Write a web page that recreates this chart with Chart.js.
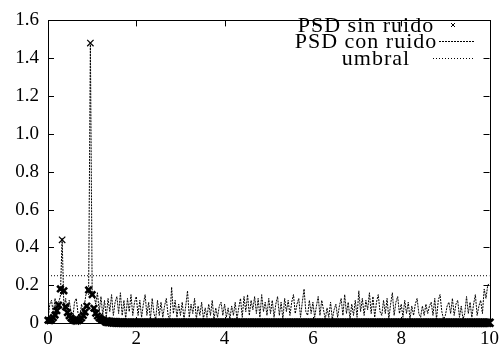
<!DOCTYPE html>
<html>
<head>
<meta charset="utf-8">
<script src="https://cdn.jsdelivr.net/npm/chart.js@4.4.1/dist/chart.umd.min.js"></script>
<style>
  html, body { margin: 0; padding: 0; background: #fff; }
  #wrap { width: 504px; height: 345px; }
</style>
</head>
<body>
<div id="wrap"><canvas id="psd" width="504" height="345"></canvas></div>
<script>
// frecuencias: rejilla de 0.04 de 0 a 10
const paso = 0.04;

// PSD con ruido (leido a ojo, una fila por unidad de frecuencia)
const psdRuido = [
  0.02,0.10,0.12,0.05,0.13,0.04,0.11,0.14,0.45,0.08,0.13,0.03,0.12,0.06,0.02,0.11,0.13,0.05,0.03,0.10,0.04,0.12,0.18,0.15,1.48,
  0.17,0.15,0.10,0.16,0.06,0.14,0.04,0.12,0.03,0.13,0.06,0.15,0.04,0.11,0.14,0.05,0.16,0.04,0.12,0.02,0.13,0.06,0.15,0.04,0.11,
  0.14,0.04,0.12,0.03,0.10,0.15,0.04,0.11,0.02,0.13,0.05,0.02,0.12,0.04,0.11,0.03,0.09,0.13,0.04,0.02,0.19,0.05,0.12,0.03,0.10,
  0.04,0.11,0.02,0.09,0.17,0.03,0.10,0.05,0.13,0.02,0.09,0.04,0.11,0.02,0.08,0.03,0.10,0.04,0.12,0.02,0.08,0.03,0.09,0.11,0.04,
  0.10,0.03,0.08,0.02,0.09,0.04,0.11,0.02,0.08,0.13,0.03,0.14,0.06,0.15,0.04,0.12,0.07,0.14,0.05,0.13,0.03,0.15,0.06,0.11,0.04,
  0.13,0.05,0.12,0.03,0.10,0.14,0.04,0.11,0.02,0.13,0.06,0.12,0.04,0.11,0.15,0.05,0.10,0.13,0.03,0.11,0.18,0.06,0.04,0.12,0.05,
  0.11,0.03,0.09,0.14,0.04,0.12,0.07,0.02,0.08,0.03,0.11,0.02,0.07,0.10,0.03,0.09,0.13,0.04,0.15,0.05,0.11,0.02,0.10,0.04,0.12,
  0.03,0.17,0.06,0.13,0.04,0.12,0.07,0.16,0.05,0.14,0.03,0.11,0.15,0.06,0.04,0.12,0.05,0.13,0.02,0.10,0.16,0.04,0.11,0.14,0.05,
  0.10,0.03,0.12,0.05,0.11,0.02,0.09,0.04,0.10,0.13,0.05,0.03,0.09,0.04,0.10,0.05,0.09,0.11,0.04,0.13,0.02,0.12,0.15,0.06,0.02,
  0.04,0.09,0.11,0.05,0.13,0.04,0.10,0.12,0.03,0.09,0.02,0.05,0.14,0.05,0.11,0.03,0.10,0.15,0.04,0.09,0.12,0.05,0.18,0.13,0.20,
  0.21
];

// PSD sin ruido
const psdLimpia = [
  0.015,0.012,0.018,0.028,0.042,0.065,0.095,0.180,0.440,0.170,0.085,0.055,0.038,0.026,0.018,0.012,0.010,0.012,0.018,0.027,0.040,0.058,0.090,0.175,1.480,
  0.150,0.078,0.052,0.037,0.027,0.020,0.015,0.011,0.008,0.006,0.005,0.004,0.003,0.003,0.002,0.002,0.002,0.002,0.001,0.001,0.001,0.001,0.001,0.001,0.001,
  0.001,0.001,0.001,0.001,0.001,0.001,0.001,0.001,0.001,0.001,0.001,0.001,0.001,0.001,0.001,0.001,0.001,0.001,0.001,0.001,0.001,0.001,0.001,0.001,0.001,
  0.001,0.001,0.001,0.001,0.001,0.001,0.001,0.001,0.001,0.001,0.001,0.001,0.001,0.001,0.001,0.001,0.001,0.001,0.001,0.001,0.001,0.001,0.001,0.001,0.001,
  0.001,0.001,0.001,0.001,0.001,0.001,0.001,0.001,0.001,0.001,0.001,0.001,0.001,0.001,0.001,0.001,0.001,0.001,0.001,0.001,0.001,0.001,0.001,0.001,0.001,
  0.001,0.001,0.001,0.001,0.001,0.001,0.001,0.001,0.001,0.001,0.001,0.001,0.001,0.001,0.001,0.001,0.001,0.001,0.001,0.001,0.001,0.001,0.001,0.001,0.001,
  0.001,0.001,0.001,0.001,0.001,0.001,0.001,0.001,0.001,0.001,0.001,0.001,0.001,0.001,0.001,0.001,0.001,0.001,0.001,0.001,0.001,0.001,0.001,0.001,0.001,
  0.001,0.001,0.001,0.001,0.001,0.001,0.001,0.001,0.001,0.001,0.001,0.001,0.001,0.001,0.001,0.001,0.001,0.001,0.001,0.001,0.001,0.001,0.001,0.001,0.001,
  0.001,0.001,0.001,0.001,0.001,0.001,0.001,0.001,0.001,0.001,0.001,0.001,0.001,0.001,0.001,0.001,0.001,0.001,0.001,0.001,0.001,0.001,0.001,0.001,0.001,
  0.001,0.001,0.001,0.001,0.001,0.001,0.001,0.001,0.001,0.001,0.001,0.001,0.001,0.001,0.001,0.001,0.001,0.001,0.001,0.001,0.001,0.001,0.001,0.001,0.001,
  0.001
];

const umbralX = [0, 10];
const umbralY = [0.25, 0.25];

const nombres = ['PSD sin ruido', 'PSD con ruido', 'umbral'];
const ticksY = [0, 0.2, 0.4, 0.6, 0.8, 1, 1.2, 1.4, 1.6];
const ticksX = [0, 2, 4, 6, 8, 10];

function frecuencia(i) { return Math.round(i * paso * 100) / 100; }

const datosLimpia = psdLimpia.map((v, i) => ({ x: frecuencia(i), y: v }));
const datosRuido = psdRuido.map((v, i) => ({ x: frecuencia(i), y: v }));
const datosUmbral = umbralX.map((x, i) => ({ x: x, y: umbralY[i] }));

const fuente = "'Liberation Serif', 'DejaVu Serif', serif";

// marco completo y ticks hacia dentro, estilo gnuplot
const marcoPlugin = {
  id: 'marco',
  afterDraw(chart) {
    const ctx = chart.ctx;
    const a = chart.chartArea;
    const sx = chart.scales.x, sy = chart.scales.y;
    ctx.save();
    ctx.strokeStyle = '#000';
    ctx.lineWidth = 1;
    ctx.setLineDash([]);
    ctx.strokeRect(Math.round(a.left) + 0.5, Math.round(a.top) + 0.5,
                   Math.round(a.right - a.left), Math.round(a.bottom - a.top));
    ctx.beginPath();
    ticksX.forEach(t => {
      const px = Math.round(sx.getPixelForValue(t)) + 0.5;
      ctx.moveTo(px, a.bottom); ctx.lineTo(px, a.bottom - 6);
      ctx.moveTo(px, a.top); ctx.lineTo(px, a.top + 6);
    });
    ticksY.forEach(t => {
      const py = Math.round(sy.getPixelForValue(t)) + 0.5;
      ctx.moveTo(a.left, py); ctx.lineTo(a.left + 6, py);
      ctx.moveTo(a.right, py); ctx.lineTo(a.right - 6, py);
    });
    ctx.stroke();

    // leyenda
    ctx.fillStyle = '#000';
    ctx.font = '22px ' + fuente;
    ctx.letterSpacing = '1px';
    ctx.textAlign = 'center';
    ctx.textBaseline = 'middle';
    const filas = [25, 41, 58];
    const centros = [366, 366, 376];
    chart.data.datasets.forEach((ds, i) => {
      ctx.fillText(ds.label, centros[i], filas[i] + 1);
    });
    ctx.letterSpacing = '0px';
    // muestra: x
    ctx.beginPath();
    ctx.moveTo(451, filas[0] - 2); ctx.lineTo(455, filas[0] + 2);
    ctx.moveTo(455, filas[0] - 2); ctx.lineTo(451, filas[0] + 2);
    ctx.stroke();
    // muestra: discontinua
    ctx.setLineDash([2, 1]);
    ctx.beginPath();
    ctx.moveTo(439, filas[1] + 0.5); ctx.lineTo(475, filas[1] + 0.5);
    ctx.stroke();
    // muestra: punteada
    ctx.setLineDash([1, 2]);
    ctx.beginPath();
    ctx.moveTo(433, filas[2] + 0.5); ctx.lineTo(475, filas[2] + 0.5);
    ctx.stroke();
    ctx.restore();
  }
};

new Chart(document.getElementById('psd').getContext('2d'), {
  type: 'scatter',
  data: {
    datasets: [
      {
        label: nombres[0],
        data: datosLimpia,
        showLine: false,
        pointStyle: 'crossRot',
        pointRadius: c => (c.raw && c.raw.y < 0.01 ? 5.5 : 4.5),
        borderColor: '#000',
        borderWidth: c => (c.raw && c.raw.y < 0.2 ? 2.6 : 1.2),
        clip: false,
        order: 1
      },
      {
        label: nombres[1],
        data: datosRuido,
        showLine: true,
        pointRadius: 0,
        borderColor: '#000',
        borderWidth: 1,
        borderDash: [2, 1],
        tension: 0,
        order: 2
      },
      {
        label: nombres[2],
        data: datosUmbral,
        showLine: true,
        pointRadius: 0,
        borderColor: '#000',
        borderWidth: 1,
        borderDash: [1, 2],
        order: 3
      }
    ]
  },
  options: {
    responsive: false,
    animation: false,
    devicePixelRatio: 1,
    layout: { padding: { top: 15, right: 9, left: 0, bottom: 0 } },
    plugins: {
      legend: { display: false },
      tooltip: { enabled: false }
    },
    scales: {
      x: {
        type: 'linear',
        min: 0, max: 10,
        afterFit(s) { s.height = 22; },
        afterBuildTicks(s) { s.ticks = ticksX.map(v => ({ value: v })); },
        grid: { display: false, drawTicks: false },
        border: { display: false },
        ticks: { color: '#000', padding: 5, font: { family: fuente, size: 19 }, maxRotation: 0 }
      },
      y: {
        type: 'linear',
        min: 0, max: 1.6,
        afterFit(s) { s.width = 48; },
        afterBuildTicks(s) { s.ticks = ticksY.map(v => ({ value: v })); },
        grid: { display: false, drawTicks: false },
        border: { display: false },
        ticks: { color: '#000', padding: 9, font: { family: fuente, size: 19 } }
      }
    }
  },
  plugins: [marcoPlugin]
});
</script>
</body>
</html>
